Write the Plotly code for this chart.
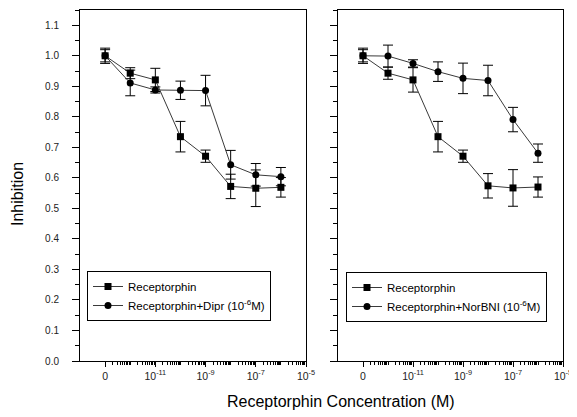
import math
import plotly.graph_objects as go

# ---- data ----
conc = [0, 1e-12, 1e-11, 1e-10, 1e-9, 1e-8, 1e-7, 1e-6]

left_rec = [1.00, 0.943, 0.921, 0.735, 0.671, 0.572, 0.566, 0.569]
left_rec_err = [0.025, 0.018, 0.038, 0.05, 0.02, 0.04, 0.06, 0.032]
left_dipr = [1.00, 0.911, 0.888, 0.887, 0.886, 0.643, 0.610, 0.604]
left_dipr_err = [0.02, 0.042, 0.01, 0.03, 0.05, 0.047, 0.037, 0.03]

right_rec = [1.00, 0.943, 0.921, 0.735, 0.671, 0.574, 0.567, 0.570]
right_rec_err = [0.025, 0.02, 0.04, 0.05, 0.02, 0.04, 0.06, 0.033]
right_nor = [1.00, 0.999, 0.975, 0.948, 0.926, 0.919, 0.791, 0.681]
right_nor_err = [0.02, 0.036, 0.012, 0.032, 0.05, 0.05, 0.04, 0.03]

major_vals = [-13, -11, -9, -7, -5]
major_text = ["0", "10<sup>-11</sup>", "10<sup>-9</sup>", "10<sup>-7</sup>", "10<sup>-5</sup>"]

BREAK_POS = -13  # axis position used for concentration 0


def xpos(c):
    return math.log10(c) if c > 0 else BREAK_POS


x = [xpos(c) for c in conc]

minor_vals = []
for d in range(-13, -5):
    for k in range(2, 10):
        minor_vals.append(d + math.log10(k))
    if d + 1 not in major_vals:
        minor_vals.append(d + 1)

FONT = "Liberation Sans, Arial, sans-serif"
LINE = "#3a3a3a"

fig = go.Figure()


def add(xaxis, yaxis, y, err, symbol, name, legend):
    fig.add_trace(go.Scatter(
        x=x, y=y, xaxis=xaxis, yaxis=yaxis, name=name, legend=legend,
        mode="lines+markers",
        line=dict(color=LINE, width=1),
        marker=dict(symbol=symbol, size=7, color="black"),
        error_y=dict(type="data", array=err, color="black", thickness=1, width=5),
    ))


add("x", "y", left_rec, left_rec_err, "square", "Receptorphin", "legend")
add("x", "y", left_dipr, left_dipr_err, "circle", "Receptorphin+Dipr (10<sup>-6</sup>M)", "legend")
add("x2", "y2", right_rec, right_rec_err, "square", "Receptorphin", "legend2")
add("x2", "y2", right_nor, right_nor_err, "circle", "Receptorphin+NorBNI (10<sup>-6</sup>M)", "legend2")

# page body adds an 8px offset; figure is sized to fit the window
W, H = 569, 409
ytop = 1 - 2 / H
ybot = 1 - 353 / H

xaxis_common = dict(
    range=[-14, -5], showgrid=False, zeroline=False,
    showline=True, linecolor="black", linewidth=1, mirror=True,
    tickmode="array", tickvals=major_vals, ticktext=major_text,
    ticks="outside", ticklen=5, tickcolor="black", tickwidth=1,
    minor=dict(tickmode="array", tickvals=minor_vals, ticks="outside", ticklen=3,
               tickcolor="black", tickwidth=1),
    tickfont=dict(family=FONT, size=10.5, color="#222"),
)
yaxis_common = dict(
    range=[0, 1.15], showgrid=False, zeroline=False,
    showline=True, linecolor="black", linewidth=1, mirror=True,
    tickmode="linear", tick0=0, dtick=0.1, tickformat=".1f",
    ticks="outside", ticklen=7, tickcolor="black", tickwidth=1,
    minor=dict(dtick=0.05, tick0=0, ticks="outside", ticklen=4, tickcolor="black", tickwidth=1),
    tickfont=dict(family=FONT, size=10, color="#222"),
    domain=[ybot, ytop],
)

legend_common = dict(
    xanchor="left", yanchor="top",
    bordercolor="black", borderwidth=1, bgcolor="white",
    font=dict(family=FONT, size=11.5, color="black"),
    tracegroupgap=0, itemwidth=30,
)

fig.update_layout(
    width=W, height=H,
    margin=dict(l=0, r=0, t=0, b=0, autoexpand=False),
    paper_bgcolor="white", plot_bgcolor="white",
    font=dict(family=FONT, color="black"),
    xaxis=dict(xaxis_common, domain=[72 / W, 298 / W], anchor="y"),
    yaxis=dict(yaxis_common, anchor="x", ticklabelstandoff=11),
    xaxis2=dict(xaxis_common, domain=[330 / W, 555 / W], anchor="y2"),
    yaxis2=dict(yaxis_common, anchor="x2", showticklabels=False),
    legend=dict(legend_common, x=79 / W, y=1 - 263 / H, entrywidth=170),
    legend2=dict(legend_common, x=338 / W, y=1 - 264 / H, entrywidth=300),
    annotations=[
        dict(text="Inhibition", x=9 / W, y=1 - 186 / H, xref="paper", yref="paper",
             xanchor="center", yanchor="middle",
             textangle=-90, showarrow=False, font=dict(family=FONT, size=16, color="black")),
        dict(text="Receptorphin Concentration (M)", x=333 / W, y=1 - 393 / H,
             xref="paper", yref="paper", xanchor="center", yanchor="middle", showarrow=False,
             font=dict(family=FONT, size=16, color="black")),
    ],
)

fig.write_html("out.html")
